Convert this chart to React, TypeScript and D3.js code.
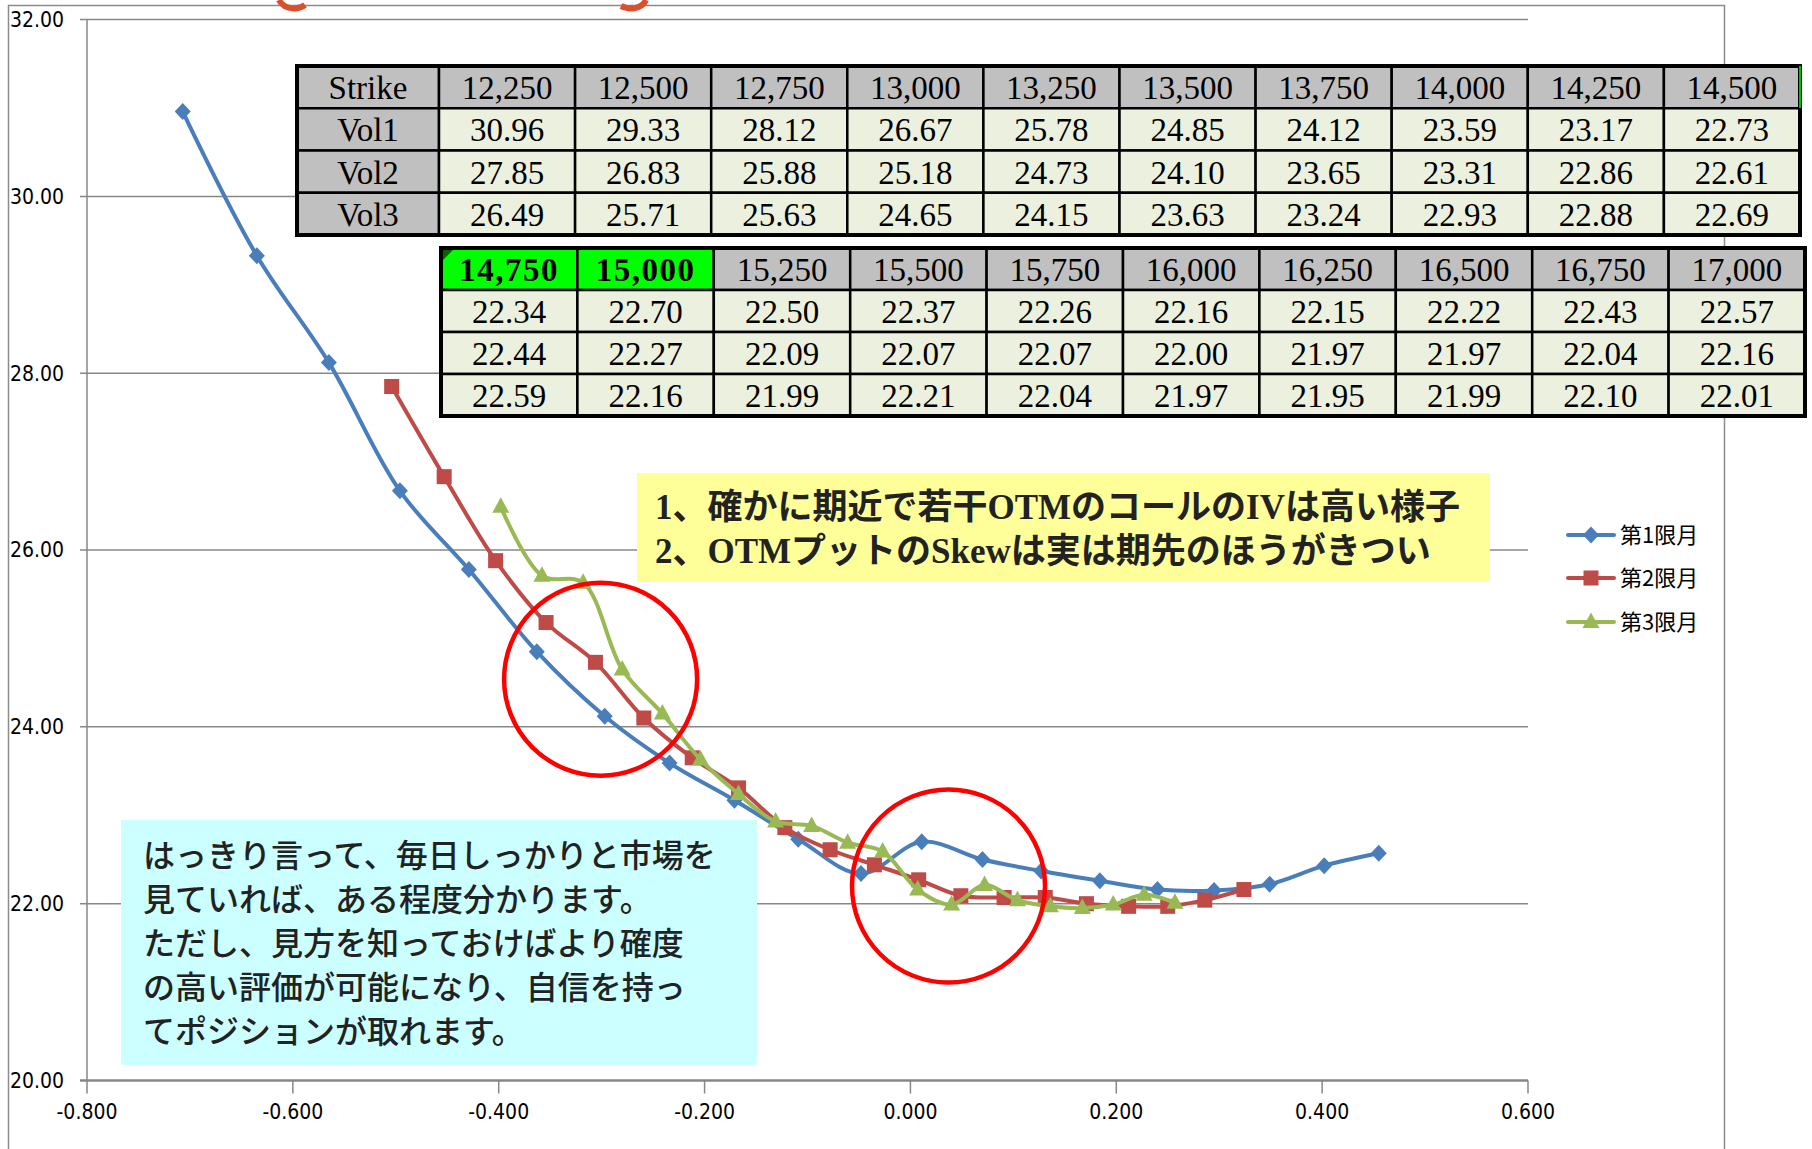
import React from 'react';
import * as d3 from 'd3';

// ---------- data ----------
const strikes = ['12,250','12,500','12,750','13,000','13,250','13,500','13,750','14,000','14,250','14,500',
  '14,750','15,000','15,250','15,500','15,750','16,000','16,250','16,500','16,750','17,000'];
const vol1 = [30.96,29.33,28.12,26.67,25.78,24.85,24.12,23.59,23.17,22.73,22.34,22.70,22.50,22.37,22.26,22.16,22.15,22.22,22.43,22.57];
const vol2 = [27.85,26.83,25.88,25.18,24.73,24.10,23.65,23.31,22.86,22.61,22.44,22.27,22.09,22.07,22.07,22.00,21.97,21.97,22.04,22.16];
const vol3 = [26.49,25.71,25.63,24.65,24.15,23.63,23.24,22.93,22.88,22.69,22.59,22.16,21.99,22.21,22.04,21.97,21.95,21.99,22.10,22.01];
const x1 = [-0.707,-0.635,-0.565,-0.496,-0.429,-0.363,-0.297,-0.234,-0.171,-0.109,-0.048,0.011,0.070,0.127,0.184,0.240,0.295,0.349,0.402,0.455];
const x2 = [-0.504,-0.453,-0.403,-0.354,-0.306,-0.259,-0.212,-0.167,-0.122,-0.078,-0.035,0.008,0.049,0.091,0.131,0.171,0.212,0.250,0.286,0.324];
const x3 = [-0.398,-0.358,-0.318,-0.280,-0.241,-0.204,-0.167,-0.131,-0.096,-0.061,-0.027,0.007,0.040,0.072,0.104,0.136,0.167,0.197,0.227,0.257];
const seriesNames = ['第1限月','第2限月','第3限月'];
const seriesColors = ['#4A7EBB','#BE4B48','#98B954'];
const xTicks = [-0.8,-0.6,-0.4,-0.2,0,0.2,0.4,0.6];
const yTicks = [20,22,24,26,28,30,32];
const rowLabels = ['Strike','Vol1','Vol2','Vol3'];
const highlightedStrikes = ['14,750','15,000'];
const noteYellow = ['1、確かに期近で若干OTMのコールのIVは高い様子','2、OTMプットのSkewは実は期先のほうがきつい'];
const noteCyan = ['はっきり言って、毎日しっかりと市場を','見ていれば、ある程度分かります。','ただし、見方を知っておけばより確度','の高い評価が可能になり、自信を持っ','てポジションが取れます。'];
const circleCenters: [number, number][] = [[-0.301, 24.54],[0.037, 22.2]];

const axisFont = '"Liberation Sans Narrow","DejaVu Sans Condensed","Arial Narrow",sans-serif';
const tableFont = '"Liberation Serif","DejaVu Serif",serif';
const cjkFont = '"Noto Sans CJK JP","Noto Sans",sans-serif';

function Marker({ kind, cx, cy, color }: { kind: number; cx: number; cy: number; color: string }) {
  if (kind === 0) return <path d={`M${cx},${cy - 8.5}L${cx + 8},${cy}L${cx},${cy + 8.5}L${cx - 8},${cy}Z`} fill={color} />;
  if (kind === 1) return <rect x={cx - 7.5} y={cy - 7.5} width={15} height={15} fill={color} />;
  return <path d={`M${cx},${cy - 9.5}L${cx + 8.5},${cy + 6}L${cx - 8.5},${cy + 6}Z`} fill={color} />;
}

function Table({ x0, y0, labelW, colW, rowH, cols, rows, withLabels }:
  { x0: number; y0: number; labelW: number; colW: number; rowH: number; cols: string[]; rows: number[][]; withLabels: boolean }) {
  const cells: any[] = [];
  const lw = withLabels ? labelW : 0;
  const totalW = lw + colW * cols.length;
  const totalH = rowH * 4;
  for (let r = 0; r < 4; r++) {
    if (withLabels) {
      cells.push(
        <g key={`l${r}`}>
          <rect x={x0} y={y0 + r * rowH} width={labelW} height={rowH} fill="#C0C0C0" stroke="#000" strokeWidth={2.5} />
          <text x={x0 + labelW / 2} y={y0 + r * rowH + rowH / 2} dy="0.36em" textAnchor="middle" fontFamily={tableFont} fontSize={33}>{rowLabels[r]}</text>
        </g>
      );
    }
    cols.forEach((c, i) => {
      const cx = x0 + lw + i * colW;
      const cy = y0 + r * rowH;
      const hl = r === 0 && highlightedStrikes.includes(c);
      const fill = r === 0 ? (hl ? '#00FF00' : '#C0C0C0') : '#EBF1DE';
      const label = r === 0 ? c : rows[r - 1][i].toFixed(2);
      cells.push(
        <g key={`c${r}-${i}`}>
          <rect x={cx} y={cy} width={colW} height={rowH} fill={fill} stroke="#000" strokeWidth={2.5} />
          {hl && i === 0 ? <path d={`M${cx + 2},${cy + 2}L${cx + 12},${cy + 2}L${cx + 2},${cy + 12}Z`} fill="#006400" /> : null}
          <text x={cx + colW / 2} y={cy + rowH / 2} dy="0.36em" textAnchor="middle" fontFamily={tableFont}
            fontSize={33} fontWeight={hl ? 'bold' : 'normal'} letterSpacing={hl ? 1.5 : 0}>{label}</text>
        </g>
      );
    });
  }
  return (
    <g>
      {cells}
      <rect x={x0} y={y0} width={totalW} height={totalH} fill="none" stroke="#000" strokeWidth={4} />
    </g>
  );
}

export default function App() {
  const W = 1812, H = 1149;
  const x = d3.scaleLinear().domain([-0.8, 0.6]).range([87, 1528]);
  const y = d3.scaleLinear().domain([20, 32]).range([1080.5, 19.6]);
  const line = d3.line<[number, number]>().x(d => x(d[0])).y(d => y(d[1])).curve(d3.curveCatmullRom.alpha(0.5));
  const series = [
    x1.map((v, i) => [v, vol1[i]] as [number, number]),
    x2.map((v, i) => [v, vol2[i]] as [number, number]),
    x3.map((v, i) => [v, vol3[i]] as [number, number]),
  ];
  const legendY = [535, 578, 622];

  return (
    <svg width={W} height={H} style={{ position: 'absolute', left: 0, top: 0, background: '#fff' }}>
      <rect x={0} y={0} width={W} height={H} fill="#fff" />
      {/* chart border */}
      <rect x={8.5} y={5.5} width={1716} height={1200} fill="none" stroke="#8C8C8C" strokeWidth={1.5} />
      {/* partial red title shapes at top */}
      <path d="M279,0 Q283,8 294,8.5 Q301,8 305,5" fill="none" stroke="#D9502F" strokeWidth={6} />
      <path d="M646,0 Q643,7 633,8.5 Q626,8.5 621,6" fill="none" stroke="#D9502F" strokeWidth={6} />

      {/* gridlines */}
      {yTicks.map(t => (
        <line key={`g${t}`} x1={80} x2={x(0.6)} y1={y(t)} y2={y(t)} stroke="#878787" strokeWidth={t === 20 ? 2.5 : 1.5} />
      ))}
      <line x1={x(-0.8)} x2={x(-0.8)} y1={y(32)} y2={y(20)} stroke="#878787" strokeWidth={1.5} />
      {xTicks.map(t => (
        <line key={`xt${t}`} x1={x(t)} x2={x(t)} y1={y(20)} y2={y(20) + 13} stroke="#878787" strokeWidth={1.5} />
      ))}
      {yTicks.map(t => (
        <text key={`yl${t}`} x={64} y={y(t)} dy="0.35em" textAnchor="end" fontFamily={axisFont} fontSize={21} fill="#000">{t.toFixed(2)}</text>
      ))}
      {xTicks.map(t => (
        <text key={`xl${t}`} x={x(t)} y={1112} dy="0.35em" textAnchor="middle" fontFamily={axisFont} fontSize={21} fill="#000">{t.toFixed(3)}</text>
      ))}

      {/* series */}
      {series.map((s, k) => (
        <g key={`s${k}`}>
          <path d={line(s) || ''} fill="none" stroke={seriesColors[k]} strokeWidth={4} strokeLinejoin="round" />
          {s.map((p, i) => <Marker key={i} kind={k} cx={x(p[0])} cy={y(p[1])} color={seriesColors[k]} />)}
        </g>
      ))}

      {/* legend */}
      {seriesNames.map((n, k) => (
        <g key={`lg${k}`}>
          <line x1={1568} x2={1614} y1={legendY[k]} y2={legendY[k]} stroke={seriesColors[k]} strokeWidth={4} strokeLinecap="round" />
          <Marker kind={k} cx={1591} cy={legendY[k]} color={seriesColors[k]} />
          <text x={1620} y={legendY[k]} dy="0.36em" fontFamily={cjkFont} fontSize={22} fill="#000">{n}</text>
        </g>
      ))}

      {/* yellow note */}
      <rect x={637} y={473} width={853} height={108} fill="#FFFF99" />
      {noteYellow.map((t, i) => (
        <text key={`ny${i}`} x={655} y={519 + i * 44} fontFamily={`"Liberation Serif",${cjkFont}`} fontWeight="bold" fontSize={35} fill="#222">{t}</text>
      ))}

      {/* cyan note */}
      <rect x={121} y={820} width={636} height={245} fill="#CCFFFF" />
      {noteCyan.map((t, i) => (
        <text key={`nc${i}`} x={143} y={867 + i * 44} fontFamily={cjkFont} fontWeight={500} fontSize={32} fill="#222">{t}</text>
      ))}

      {/* red circles */}
      {circleCenters.map((c, i) => (
        <circle key={`rc${i}`} cx={x(c[0])} cy={y(c[1])} r={96.5} fill="none" stroke="#FF0000" strokeWidth={4.5} />
      ))}

      {/* tables */}
      <Table x0={297} y0={66} labelW={142} colW={136.1} rowH={42.25} cols={strikes.slice(0, 10)}
        rows={[vol1.slice(0, 10), vol2.slice(0, 10), vol3.slice(0, 10)]} withLabels={true} />
      <line x1={1800} x2={1800} y1={66} y2={108} stroke="#00C000" strokeWidth={2} />
      <Table x0={441} y0={248} labelW={0} colW={136.4} rowH={42} cols={strikes.slice(10)}
        rows={[vol1.slice(10), vol2.slice(10), vol3.slice(10)]} withLabels={false} />
    </svg>
  );
}
